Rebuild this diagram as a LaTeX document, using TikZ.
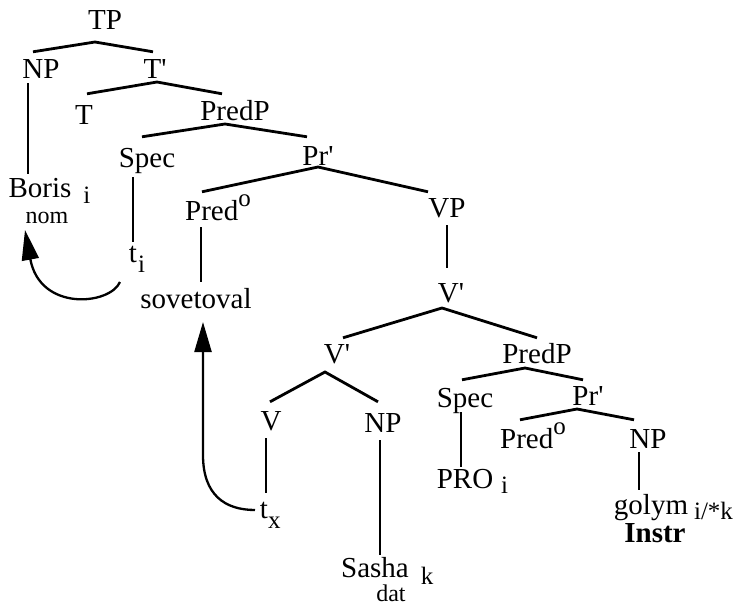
\documentclass[tikz,border=0pt]{standalone}
\usepackage{fontspec}
\setmainfont{Liberation Serif}
\usepackage{tikz}
\usetikzlibrary{arrows.meta}
\newcommand{\idx}[1]{{\fontsize{25}{25}\selectfont #1}}
\newcommand{\pr}{\textquotesingle}

\begin{document}
\begin{tikzpicture}[x=1pt,y=-1pt,
    lab/.style={anchor=base,inner sep=0pt,text height=20pt,text depth=0pt,font=\fontsize{29}{30}\selectfont},
    low/.style={anchor=base,inner sep=0pt,font=\fontsize{24}{25}\selectfont},
    br/.style={line width=2.8pt},
    mv/.style={line width=2.3pt,-{Triangle[length=30pt,width=17pt]}}]
  \useasboundingbox (0,0) rectangle (737,605);
  % labels
  \node[lab](TP) at (105,30) {TP};
  \node[lab](NP1) at (41,78) {NP};
  \node[lab](Tbar) at (155,78) {T\pr};
  \node[lab](T) at (84,124) {T};
  \node[lab](PredP1) at (235,120) {PredP};
  \node[lab](Spec1) at (147,167) {Spec};
  \node[lab](Pr1) at (318,165) {Pr\pr};
  \node[lab](Pred1) at (218,220) {Pred\raisebox{14pt}{\idx{o}}};
  \node[lab](VP) at (447,217) {VP};
  \node[lab](Boris) at (40,197) {Boris\rlap{\hspace{12pt}\raisebox{-6pt}{\idx{i}}}};
  \node[low](nom) at (47,223) {nom};
  \node[lab](ti) at (133,262) {t\rlap{\hspace{1pt}\raisebox{-10pt}{\idx{i}}}};
  \node[lab](sov) at (196,308) {sovetoval};
  \node[lab](Vbar1) at (451,302) {V\pr};
  \node[lab](Vbar2) at (337,363) {V\pr};
  \node[lab](PredP2) at (537,363) {PredP};
  \node[lab](V) at (271,430) {V};
  \node[lab](NP2) at (383,432) {NP};
  \node[lab](Spec2) at (465,407) {Spec};
  \node[lab](Pr2) at (588,405) {Pr\pr};
  \node[lab](Pred2) at (533,448) {Pred\raisebox{14pt}{\idx{o}}};
  \node[lab](NP3) at (648,448) {NP};
  \node[lab](tx) at (264,518) {t\rlap{\raisebox{-10pt}{\idx{x}}}};
  \node[lab](PRO) at (465,488) {PRO\rlap{\hspace{8pt}\raisebox{-5pt}{\idx{i}}}};
  \node[lab](Sasha) at (375,577) {Sasha\rlap{\hspace{12pt}\raisebox{-7pt}{\idx{k}}}};
  \node[low](dat) at (391,601) {dat};
  \node[lab](golym) at (651,514) {golym\rlap{\hspace{6pt}\raisebox{-5pt}{\idx{i/*k}}}};
  \node[lab,font=\fontsize{29}{30}\selectfont\bfseries](Instr) at (655,542) {Instr};
  % branches
  \draw[br] ([xshift=-8pt,yshift=6pt]NP1.north) -- ([xshift=-10pt,yshift=-12pt]TP.base) -- ([xshift=-2pt,yshift=6pt]Tbar.north);
  \draw[br] ([xshift=3pt,yshift=10pt]T.north) -- ([xshift=2pt,yshift=-4pt]Tbar.base) -- ([xshift=-13pt,yshift=6pt]PredP1.north);
  \draw[br] ([xshift=-5pt,yshift=10pt]Spec1.north) -- ([xshift=-10pt,yshift=-4pt]PredP1.base) -- ([xshift=-11pt,yshift=8pt]Pr1.north);
  \draw[br] ([xshift=-16pt,yshift=8pt]Pred1.north) -- ([yshift=-2pt]Pr1.base) -- ([xshift=-19pt,yshift=5pt]VP.north);
  \draw[br] ([yshift=-8pt]VP.base) -- ([xshift=-4pt,yshift=14pt]Vbar1.north);
  \draw[br] ([xshift=6pt,yshift=5pt]Vbar2.north) -- ([xshift=-9pt,yshift=-6pt]Vbar1.base) -- ([yshift=5pt]PredP2.north);
  \draw[br] ([xshift=-1pt,yshift=8pt]V.north) -- ([xshift=-12pt,yshift=-9pt]Vbar2.base) -- ([xshift=-5pt,yshift=10pt]NP2.north);
  \draw[br] ([xshift=-3pt,yshift=7pt]Spec2.north) -- ([xshift=-12pt,yshift=-5pt]PredP2.base) -- ([xshift=-5pt,yshift=5pt]Pr2.north);
  \draw[br] ([xshift=-13pt,yshift=8pt]Pred2.north) -- ([xshift=-11pt,yshift=-4pt]Pr2.base) -- ([xshift=-14pt,yshift=8pt]NP3.north);
  \draw[br] ([xshift=-13pt,yshift=-5pt]NP1.base) -- ([xshift=-12pt,yshift=3pt]Boris.north);
  \draw[br] ([xshift=-14pt,yshift=-10pt]Spec1.base) -- (ti.north);
  \draw[br] ([xshift=-17pt,yshift=-7pt]Pred1.base) -- ([xshift=5pt,yshift=6pt]sov.north);
  \draw[br] ([xshift=-5pt,yshift=-8pt]V.base) -- ([xshift=2pt,yshift=5pt]tx.north);
  \draw[br] ([xshift=-3pt,yshift=-8pt]NP2.base) -- ([xshift=5pt,yshift=2pt]Sasha.north);
  \draw[br] ([xshift=-4pt,yshift=-5pt]Spec2.base) -- ([xshift=-4pt,yshift=1pt]PRO.north);
  \draw[br] ([xshift=-9pt,yshift=-4pt]NP3.base) -- ([xshift=-12pt,yshift=4pt]golym.north);
  % movement
  \draw[mv] ([xshift=-13pt,yshift=-20pt]ti.base) .. controls +(-10,23) and +(15,82) .. ([xshift=-22pt,yshift=-7pt]nom.base);
  \draw[mv] ([xshift=-9pt,yshift=8pt]tx.base) .. controls +(-30,0) and +(0,40) .. ++(-52,-55) -- ([xshift=7pt,yshift=-14pt]sov.base);
\end{tikzpicture}
\end{document}
